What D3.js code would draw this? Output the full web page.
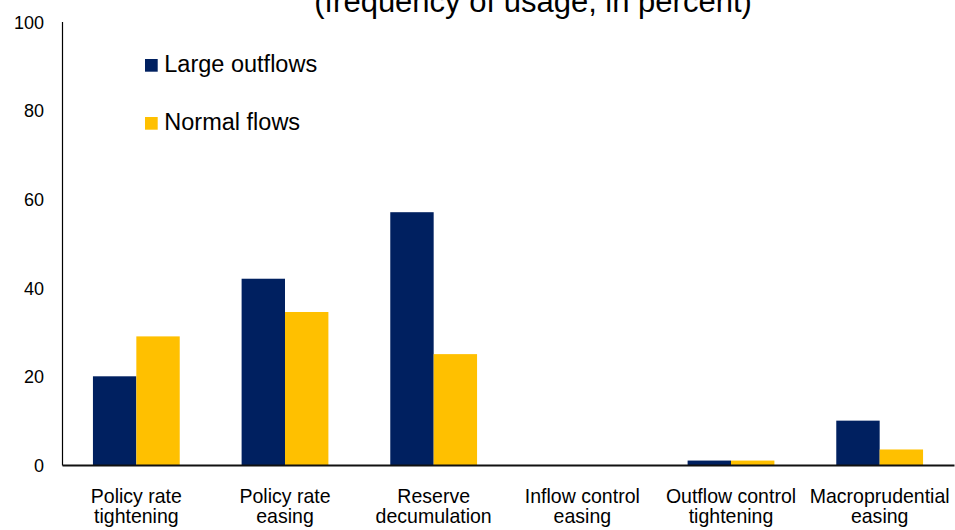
<!DOCTYPE html>
<html>
<head>
<meta charset="utf-8">
<script src="https://cdn.jsdelivr.net/npm/d3@7"></script>
<style>
  html, body { margin: 0; padding: 0; background: #fff; }
  svg { display: block; font-family: "Liberation Sans", Arial, sans-serif; }
</style>
</head>
<body>
<svg id="chart" width="955" height="530"></svg>
<script>
// Policy responses to capital flows (frequency of usage, in percent)
const categories = [
  ["Policy rate", "tightening"],
  ["Policy rate", "easing"],
  ["Reserve", "decumulation"],
  ["Inflow control", "easing"],
  ["Outflow control", "tightening"],
  ["Macroprudential", "easing"]
];
const seriesNames = ["Large outflows", "Normal flows"];
const largeOutflows = [20, 42, 57, 0, 1, 10];
const normalFlows = [29, 34.5, 25, 0, 1, 3.5];
const yTicks = [0, 20, 40, 60, 80, 100];
const colors = ["#002060", "#FFC000"];

const svg = d3.select("#chart");
const margin = { left: 62, right: 1, top: 21.5, bottom: 65 };
const W = 955, H = 530;

const x = d3.scaleBand()
  .domain(d3.range(categories.length))
  .range([margin.left, W - margin.right])
  .paddingInner(0)
  .paddingOuter(0);

const x1 = d3.scaleBand()
  .domain(d3.range(seriesNames.length))
  .range([0, x.bandwidth()])
  .paddingInner(0)
  .paddingOuter(0.713);

const y = d3.scaleLinear().domain([0, 100]).range([H - margin.bottom, margin.top]);

// title (partly above the visible area)
svg.append("text")
  .attr("x", 533).attr("y", 12)
  .attr("text-anchor", "middle")
  .attr("font-size", 31)
  .attr("fill", "#000")
  .text("(frequency of usage, in percent)");

// bars
const series = [largeOutflows, normalFlows];
const groups = svg.append("g").selectAll("g")
  .data(categories)
  .join("g")
  .attr("transform", (d, i) => `translate(${x(i)},0)`);

groups.selectAll("rect")
  .data((d, i) => series.map((s, k) => ({ k, v: s[i] })))
  .join("rect")
  .attr("x", d => x1(d.k))
  .attr("width", x1.bandwidth())
  .attr("y", d => y(d.v))
  .attr("height", d => y(0) - y(d.v))
  .attr("fill", d => colors[d.k]);

// y axis
const yAxis = d3.axisLeft(y).tickValues(yTicks).tickSize(0).tickPadding(18);
const gy = svg.append("g")
  .attr("transform", `translate(${margin.left},0)`)
  .call(yAxis);
gy.select(".domain").attr("stroke", "#000").attr("stroke-width", 1.2);
gy.selectAll("text")
  .attr("font-size", 18)
  .attr("font-family", "Liberation Sans, Arial, sans-serif")
  .attr("fill", "#000")
  .attr("dy", "0.37em");

// x axis baseline and two-line category labels
const xAxis = d3.axisBottom(x).tickSize(0).tickFormat(() => "");
const gx = svg.append("g")
  .attr("transform", `translate(0,${y(0)})`)
  .call(xAxis);
gx.select(".domain").attr("stroke", "#111").attr("stroke-width", 1.8);

const labels = svg.append("g").selectAll("text")
  .data(categories)
  .join("text")
  .attr("transform", (d, i) => `translate(${x(i) + x.bandwidth() / 2},502.5) scale(0.93,1)`)
  .attr("text-anchor", "middle")
  .attr("font-size", 21)
  .attr("fill", "#000");
labels.selectAll("tspan")
  .data(d => d)
  .join("tspan")
  .attr("x", 0)
  .attr("dy", (d, j) => j === 0 ? 0 : 20.2)
  .text(d => d);

// legend
const legend = svg.append("g").selectAll("g")
  .data(seriesNames)
  .join("g")
  .attr("transform", (d, i) => `translate(145,${59 + i * 58})`);
legend.append("rect")
  .attr("width", 12.7).attr("height", 12.7)
  .attr("fill", (d, i) => colors[i]);
legend.append("text")
  .attr("x", 19.3).attr("y", 12.7)
  .attr("font-size", 23.5)
  .attr("fill", "#000")
  .text(d => d);
</script>
</body>
</html>
